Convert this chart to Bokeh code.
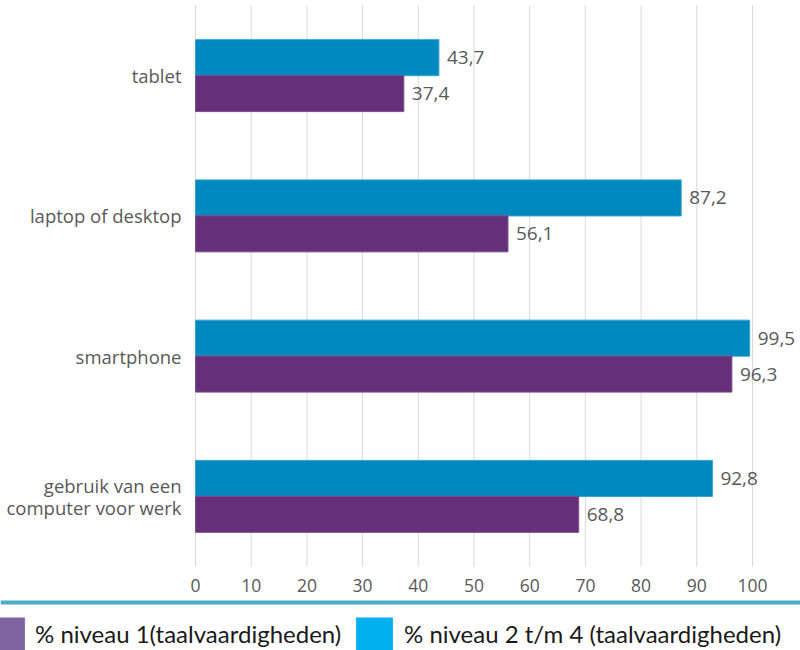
from bokeh.plotting import figure
from bokeh.models import (ColumnDataSource, Range1d, Span, Legend, LegendItem)
from bokeh.transform import dodge
from bokeh.core.properties import value
from bokeh.embed import file_html
from bokeh.resources import INLINE

# ---- data ----
categories = ["tablet", "laptop of desktop", "smartphone",
              "gebruik van een\ncomputer voor werk"]
niveau1 = [37.4, 56.1, 96.3, 68.8]
niveau2_4 = [43.7, 87.2, 99.5, 92.8]
x_ticks = [0, 10, 20, 30, 40, 50, 60, 70, 80, 90, 100]
series_names = ["% niveau 1(taalvaardigheden)",
                "% niveau 2 t/m 4 (taalvaardigheden)"]
bar_colors = ["#652f79", "#0089bf"]
bar_edge = ["#7a4d8c", "#35a2d2"]
legend_colors = ["#8064a2", "#00b0f0"]

FONT = "Open Sans"
LEG_FONT = "Lato"
GREY = "#595959"


def fmt(v):
    return f"{v:.1f}".replace(".", ",")


n = len(categories)
ypos = [n - i for i in range(n)]          # first category on top

src = ColumnDataSource(dict(
    cat=categories,
    y=ypos,
    zero=[0] * n,
    n1=niveau1,
    n2=niveau2_4,
    l1=[fmt(v) for v in niveau1],
    l2=[fmt(v) for v in niveau2_4],
))

# the plot frame fills the whole canvas; the chart occupies its upper part
unit = 140.25                      # px per category band
top_px, H = 5, 650
y_top = n + 0.5 + top_px / unit
y_bot = y_top - H / unit

p = figure(width=800, height=650,
           x_range=Range1d(-35.01, 108.62), y_range=Range1d(y_bot, y_top),
           x_axis_location=None, y_axis_location=None,
           output_backend="svg", toolbar_location=None,
           min_border_left=0, min_border_right=0,
           min_border_top=0, min_border_bottom=0)
p.outline_line_color = None
p.grid.visible = False

# vertical grid lines over the category bands
tick_src = ColumnDataSource(dict(
    x=x_ticks, lo=[0.5] * len(x_ticks), hi=[n + 0.5] * len(x_ticks),
    lab=[str(t) for t in x_ticks]))
p.segment(x0="x", x1="x", y0="lo", y1="hi", line_color="#d9d9d9",
          line_width=1, source=tick_src)
p.text(x="x", y="lo", text="lab", y_offset=19, text_align="center",
       text_baseline="middle", text_font=value(FONT), text_font_size="17.5px",
       text_color=GREY, source=tick_src)

# category labels (left of the zero line)
p.text(x="zero", y="y", text="cat", x_offset=-14,
       text_align="right", text_baseline="middle",
       text_font=value(FONT), text_font_size="18.5px", text_color=GREY,
       text_line_height=0.86, source=src)

off = 0.128
h = 0.257
p.hbar(y=dodge("y", off), right="n2", left=0, height=h,
       fill_color=bar_colors[1], line_color=bar_edge[1], line_width=1, source=src)
p.hbar(y=dodge("y", -off), right="n1", left=0, height=h,
       fill_color=bar_colors[0], line_color=bar_edge[0], line_width=1, source=src)

for col, lab, d in (("n2", "l2", off), ("n1", "l1", -off)):
    p.text(x=col, y=dodge("y", d), text=lab,
           x_offset=8, text_align="left", text_baseline="middle",
           text_font=value(FONT), text_font_size="19px", text_color=GREY,
           source=src)

# teal separator line
p.add_layout(Span(location=48, location_units="screen", dimension="width",
                  line_color="#4bacc6", line_width=4))

# legend (own colours, hidden proxy renderers)
locs = [(-17, -4), (351, -4)]
standoffs = [6, 7]
for name, colr, col, d, loc, so in zip(series_names, legend_colors, ("n1", "n2"),
                                       (-off, off), locs, standoffs):
    r = p.hbar(y=dodge("y", d), right=col, left=0, height=h,
               fill_color=colr, line_color=None, source=src, visible=False)
    lg = Legend(items=[LegendItem(label=name, renderers=[r])], location=loc,
                glyph_width=46, glyph_height=41, label_standoff=so,
                label_text_font=LEG_FONT, label_text_font_size="24px",
                label_text_color="#1a1a1a", label_height=41,
                padding=0, margin=0, spacing=0,
                inactive_fill_alpha=0,
                border_line_color=None, background_fill_alpha=0)
    p.add_layout(lg)

open("out.html", "w").write(file_html(p, INLINE))
